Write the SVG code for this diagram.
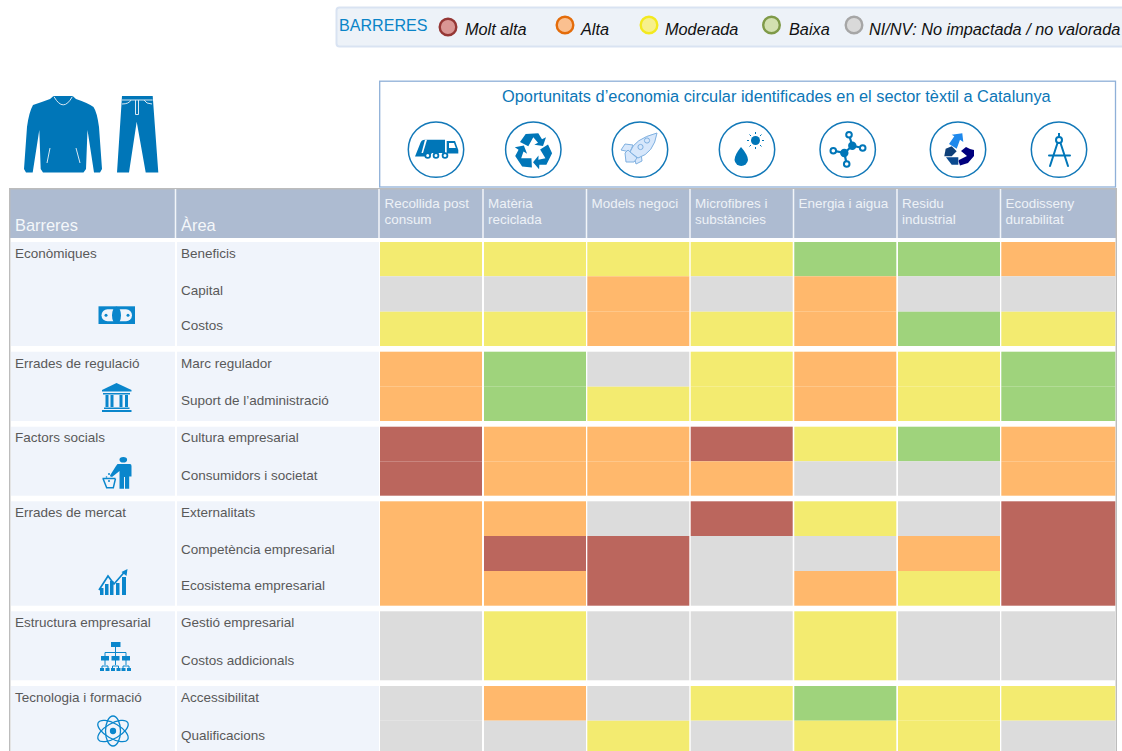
<svg xmlns="http://www.w3.org/2000/svg" width="1122" height="751" viewBox="0 0 1122 751">
<style>
text{font-family:"Liberation Sans",Arial,sans-serif}
.lab{font-size:13.5px;fill:#595959}
.hd{font-size:13.45px;fill:#eef2f7}
.hb{font-size:16.4px;fill:#f4f7fa}
.leg{font-size:16.3px;font-style:italic;fill:#111}
.i{fill:#0076b8}
.w{fill:none;stroke:#d8e8f3;stroke-width:1}
.ring{fill:#fff;stroke:#1278b8;stroke-width:1.5}
.r{fill:#bb665d}.o{fill:#ffb86c}.y{fill:#f3eb70}.g{fill:#9fd37c}.n{fill:#dcdcdc}
.bg{fill:#f0f4fb}
</style>
<rect width="1122" height="751" fill="#fff"/>
<g id="legend">
<rect x="336.5" y="7.5" width="790" height="39" rx="3" fill="#edf2f8" stroke="#d9e3f2" stroke-width="2"/>
<text x="339" y="31" font-size="16.1" fill="#0a84c8">BARRERES</text>
<circle cx="448" cy="27" r="8.3" fill="#d99694" stroke="#953735" stroke-width="2.4"/>
<text class="leg" x="465" y="34.500">Molt alta</text>
<circle cx="565" cy="25" r="8.3" fill="#fac090" stroke="#e46c0a" stroke-width="2.4"/>
<text class="leg" x="581" y="34.500">Alta</text>
<circle cx="649" cy="25" r="8.3" fill="#f7f08c" stroke="#f3e91f" stroke-width="2.4"/>
<text class="leg" x="665" y="34.500">Moderada</text>
<circle cx="771.500" cy="25" r="8.3" fill="#d3e0b0" stroke="#7f9a48" stroke-width="2.4"/>
<text class="leg" x="789" y="34.500">Baixa</text>
<circle cx="854" cy="25" r="8.3" fill="#d9d9d9" stroke="#a6a6a6" stroke-width="2.4"/>
<text class="leg" x="869" y="34.500">NI/NV: No impactada / no valorada</text>
</g>
<g id="garments">
<path class="i" d="M53.500 96H72.700L76 99Q88 103 93.500 107Q97 112 99 127L102 169L100 172.500H94L87.500 130L86 169L83.500 172.500H43L40.700 169L39.300 130L32.700 172.500H26L24 169L27 127Q29 112 33 105Q42 102 50 99Z"/>
<path class="w" stroke-width="1.200" d="M54 96.700Q63.300 113 72.300 96.700M50 148L47 163M76 148L80 163"/>
<path class="i" d="M122 96H152.700L158.300 172.500H145.700L136.700 121.700L129 172.500H117Z"/>
<path class="w" d="M122 100H152.700M122 104Q129 104 131 100M152 104Q146 104 144 100M135.500 100V114.500H138.500V100"/>
</g>
<g id="title-panel">
<rect x="379.700" y="81.200" width="735.800" height="105.800" fill="#fff" stroke="#8fb0d8" stroke-width="1.300"/>
<text x="502" y="102" font-size="16.35" fill="#0b76b7">Oportunitats d’economia circular identificades en el sector tèxtil a Catalunya</text>
</g>
<g id="op-recollida">
<circle class="ring" cx="436" cy="149.600" r="27.700"/>
<path class="i" d="M415 156.500L420 144Q421 139.700 425 139.700H445V153H432L429 156.500Z"/>
<path fill="#fff" d="M425 139.700L421.500 153H423L427 139.700Z"/>
<path class="i" d="M446.700 141H455L458.300 150V153.500H446.700Z"/>
<path fill="#fff" d="M449 143H454L455.800 148H449Z"/>
<g fill="#fff" stroke="#0076b8" stroke-width="1.800"><circle cx="427.700" cy="155.500" r="2.400"/><circle cx="436" cy="155.500" r="2.400"/><circle cx="445" cy="155.500" r="2.400"/></g>
</g>
<g id="op-materia">
<circle class="ring" cx="533.300" cy="149.600" r="27.700"/>
<g class="i">
<path d="M520 142L525.700 134L538.300 133.300L542 139.300L546 137.300L543 146L534.300 144.700L538 142.700L533.300 137.300L528.300 146.300Z"/>
<path transform="rotate(120 533.300 151.300)" d="M520 142L525.700 134L538.300 133.300L542 139.300L546 137.300L543 146L534.300 144.700L538 142.700L533.300 137.300L528.300 146.300Z"/>
<path transform="rotate(240 533.300 151.300)" d="M520 142L525.700 134L538.300 133.300L542 139.300L546 137.300L543 146L534.300 144.700L538 142.700L533.300 137.300L528.300 146.300Z"/>
</g>
</g>
<g id="op-models">
<circle class="ring" cx="640" cy="149.600" r="27.700"/>
<g fill="#d7e7fb" stroke="#7fb0e0" stroke-width="1">
<path d="M633 145L625 144L621 150L630 152Z"/>
<path d="M641 153L642 161L636 164L634 156Z"/>
<path d="M626 162L625 153L628 150L637 158L634 162Z"/>
<path d="M630 152Q634 139 657 133Q654 153 638 158Z"/>
<circle cx="647" cy="140.500" r="2.600"/><circle cx="640.500" cy="147" r="2.600"/>
</g>
</g>
<g id="op-microfibres">
<circle class="ring" cx="747" cy="149.600" r="27.700"/>
<path class="i" d="M741 147Q748 155 748 160A6.800 6.800 0 0 1 734.500 160Q734.500 155 741 147Z"/>
<circle class="i" cx="755.500" cy="140.500" r="4.500"/>
<path fill="none" stroke="#0076b8" stroke-width="1" d="M755.500 132V134M755.500 147V149M747 140.500H749M762 140.500H764M749.500 134.500L751 136M760 145L761.500 146.500M761.500 134.500L760 136M751 145L749.500 146.500"/>
</g>
<g id="op-energia">
<circle class="ring" cx="847.700" cy="149.600" r="27.700"/>
<path fill="none" stroke="#0076b8" stroke-width="2.200" d="M852.300 145.700L844.300 153M852.300 145.700L849 134.700M852.300 145.700L862.700 148M844.300 153L833.300 150.700M844.300 153L846.700 164"/>
<circle class="i" cx="852.300" cy="145.700" r="4.200"/><circle class="i" cx="844.300" cy="153" r="4.200"/>
<g fill="#fff" stroke="#0076b8" stroke-width="2"><circle cx="849" cy="134.700" r="2.800"/><circle cx="862.700" cy="148" r="2.800"/><circle cx="833.300" cy="150.700" r="2.800"/><circle cx="846.700" cy="164" r="2.800"/></g>
</g>
<g id="op-residu">
<circle class="ring" cx="958" cy="149.600" r="27.700"/>
<path fill="#1e88ec" d="M949 144L954.300 136.300L951.700 134.700L962.300 133.300L963.300 142L960 139.700L956.700 148.700Z"/>
<path fill="#0e3f78" d="M944.300 156.300L945.700 148.700L951.700 146.300L956.700 151.300L951.700 156.300Z"/>
<path fill="#0b4a8f" d="M946 157.300H958.300V164.700H951.700Z"/>
<path fill="#00007e" d="M959 160L967 156L961 151L966 147L970 149L974 150V156L968 163L960 165.500L958.500 161Z"/>
</g>
<g id="op-ecodisseny">
<circle class="ring" cx="1059" cy="149.600" r="27.700"/>
<g fill="none" stroke="#0076b8" stroke-width="2">
<circle cx="1059" cy="140" r="3"/>
<path d="M1057.500 143L1050 166M1060.500 143L1068 166M1049 155.500H1070" stroke-linecap="round"/>
<path d="M1059 137V133"/>
</g>
</g>
<g id="table-header">
<rect x="9" y="188" width="1107" height="50" fill="#adbbd1"/>
<path d="M9 188.700H1116" stroke="#bcbcbc" stroke-width="1.400"/>
<path d="M9.700 188V751" stroke="#bcbcbc" stroke-width="1.400"/>
<path d="M1116.300 188V751" stroke="#bcbcbc" stroke-width="1.400"/>
<path d="M175.500 189V238M379 189V238M483 189V238M586.500 189V238M690 189V238M793.500 189V238M897 189V238M1000.500 189V238" stroke="#f2f5f9" stroke-width="1.500"/>
<text class="hb" x="15" y="231">Barreres</text>
<text class="hb" x="181" y="231">Àrea</text>
<g>
<text class="hd" x="384.500" y="208">Recollida post</text><text class="hd" x="384.500" y="224">consum</text>
<text class="hd" x="488" y="208">Matèria</text><text class="hd" x="488" y="224">reciclada</text>
<text class="hd" x="591.500" y="208">Models negoci</text>
<text class="hd" x="695" y="208">Microfibres i</text><text class="hd" x="695" y="224">substàncies</text>
<text class="hd" x="798.500" y="208">Energia i aigua</text>
<text class="hd" x="902" y="208">Residu</text><text class="hd" x="902" y="224">industrial</text>
<text class="hd" x="1005.500" y="208">Ecodisseny</text><text class="hd" x="1005.500" y="224">durabilitat</text>
</g>
</g>
<g id="row-backgrounds" class="bg">
<rect x="11" y="242" width="164" height="104"/><rect x="177" y="242" width="202" height="104"/>
<rect x="11" y="351.700" width="164" height="69.300"/><rect x="177" y="351.700" width="202" height="69.300"/>
<rect x="11" y="426.700" width="164" height="69"/><rect x="177" y="426.700" width="202" height="69"/>
<rect x="11" y="501.300" width="164" height="104.400"/><rect x="177" y="501.300" width="202" height="104.400"/>
<rect x="11" y="611.300" width="164" height="69"/><rect x="177" y="611.300" width="202" height="69"/>
<rect x="11" y="686" width="164" height="65"/><rect x="177" y="686" width="202" height="65"/>
</g>
<g id="matrix">
<g id="row-beneficis"><rect class="y" x="380" y="242" width="102" height="34.300"/><rect class="y" x="484" y="242" width="102" height="34.300"/><rect class="y" x="587.300" y="242" width="102" height="34.300"/><rect class="y" x="690.700" y="242" width="102" height="34.300"/><rect class="g" x="794.300" y="242" width="102" height="34.300"/><rect class="g" x="898" y="242" width="102" height="34.300"/><rect class="o" x="1001.300" y="242" width="114" height="34.300"/></g>
<g id="row-capital"><rect class="n" x="380" y="276.300" width="102" height="35.400"/><rect class="n" x="484" y="276.300" width="102" height="35.400"/><rect class="o" x="587.300" y="276.300" width="102" height="35.400"/><rect class="n" x="690.700" y="276.300" width="102" height="35.400"/><rect class="o" x="794.300" y="276.300" width="102" height="35.400"/><rect class="n" x="898" y="276.300" width="102" height="35.400"/><rect class="n" x="1001.300" y="276.300" width="114" height="35.400"/></g>
<g id="row-costos"><rect class="y" x="380" y="311.700" width="102" height="34.300"/><rect class="y" x="484" y="311.700" width="102" height="34.300"/><rect class="o" x="587.300" y="311.700" width="102" height="34.300"/><rect class="y" x="690.700" y="311.700" width="102" height="34.300"/><rect class="o" x="794.300" y="311.700" width="102" height="34.300"/><rect class="g" x="898" y="311.700" width="102" height="34.300"/><rect class="y" x="1001.300" y="311.700" width="114" height="34.300"/></g>
<g id="row-marc"><rect class="o" x="380" y="351.700" width="102" height="35"/><rect class="g" x="484" y="351.700" width="102" height="35"/><rect class="n" x="587.300" y="351.700" width="102" height="35"/><rect class="y" x="690.700" y="351.700" width="102" height="35"/><rect class="o" x="794.300" y="351.700" width="102" height="35"/><rect class="y" x="898" y="351.700" width="102" height="35"/><rect class="g" x="1001.300" y="351.700" width="114" height="35"/></g>
<g id="row-suport"><rect class="o" x="380" y="386.700" width="102" height="34.300"/><rect class="g" x="484" y="386.700" width="102" height="34.300"/><rect class="y" x="587.300" y="386.700" width="102" height="34.300"/><rect class="y" x="690.700" y="386.700" width="102" height="34.300"/><rect class="o" x="794.300" y="386.700" width="102" height="34.300"/><rect class="y" x="898" y="386.700" width="102" height="34.300"/><rect class="g" x="1001.300" y="386.700" width="114" height="34.300"/></g>
<g id="row-cultura"><rect class="r" x="380" y="426.700" width="102" height="34.600"/><rect class="o" x="484" y="426.700" width="102" height="34.600"/><rect class="o" x="587.300" y="426.700" width="102" height="34.600"/><rect class="r" x="690.700" y="426.700" width="102" height="34.600"/><rect class="y" x="794.300" y="426.700" width="102" height="34.600"/><rect class="g" x="898" y="426.700" width="102" height="34.600"/><rect class="o" x="1001.300" y="426.700" width="114" height="34.600"/></g>
<g id="row-consumidors"><rect class="r" x="380" y="461.300" width="102" height="34.400"/><rect class="o" x="484" y="461.300" width="102" height="34.400"/><rect class="o" x="587.300" y="461.300" width="102" height="34.400"/><rect class="o" x="690.700" y="461.300" width="102" height="34.400"/><rect class="n" x="794.300" y="461.300" width="102" height="34.400"/><rect class="n" x="898" y="461.300" width="102" height="34.400"/><rect class="o" x="1001.300" y="461.300" width="114" height="34.400"/></g>
<g id="row-externalitats"><rect class="o" x="380" y="501.300" width="102" height="34.700"/><rect class="o" x="484" y="501.300" width="102" height="34.700"/><rect class="n" x="587.300" y="501.300" width="102" height="34.700"/><rect class="r" x="690.700" y="501.300" width="102" height="34.700"/><rect class="y" x="794.300" y="501.300" width="102" height="34.700"/><rect class="n" x="898" y="501.300" width="102" height="34.700"/><rect class="r" x="1001.300" y="501.300" width="114" height="34.700"/></g>
<g id="row-competencia"><rect class="o" x="380" y="536" width="102" height="35"/><rect class="r" x="484" y="536" width="102" height="35"/><rect class="r" x="587.300" y="536" width="102" height="35"/><rect class="n" x="690.700" y="536" width="102" height="35"/><rect class="n" x="794.300" y="536" width="102" height="35"/><rect class="o" x="898" y="536" width="102" height="35"/><rect class="r" x="1001.300" y="536" width="114" height="35"/></g>
<g id="row-ecosistema"><rect class="o" x="380" y="571" width="102" height="34.700"/><rect class="o" x="484" y="571" width="102" height="34.700"/><rect class="r" x="587.300" y="571" width="102" height="34.700"/><rect class="n" x="690.700" y="571" width="102" height="34.700"/><rect class="o" x="794.300" y="571" width="102" height="34.700"/><rect class="y" x="898" y="571" width="102" height="34.700"/><rect class="r" x="1001.300" y="571" width="114" height="34.700"/></g>
<g id="row-gestio"><rect class="n" x="380" y="611.300" width="102" height="34.700"/><rect class="y" x="484" y="611.300" width="102" height="34.700"/><rect class="n" x="587.300" y="611.300" width="102" height="34.700"/><rect class="n" x="690.700" y="611.300" width="102" height="34.700"/><rect class="y" x="794.300" y="611.300" width="102" height="34.700"/><rect class="n" x="898" y="611.300" width="102" height="34.700"/><rect class="n" x="1001.300" y="611.300" width="114" height="34.700"/></g>
<g id="row-addicionals"><rect class="n" x="380" y="646" width="102" height="34.300"/><rect class="y" x="484" y="646" width="102" height="34.300"/><rect class="n" x="587.300" y="646" width="102" height="34.300"/><rect class="n" x="690.700" y="646" width="102" height="34.300"/><rect class="y" x="794.300" y="646" width="102" height="34.300"/><rect class="n" x="898" y="646" width="102" height="34.300"/><rect class="n" x="1001.300" y="646" width="114" height="34.300"/></g>
<g id="row-accessibilitat"><rect class="n" x="380" y="686" width="102" height="34.700"/><rect class="o" x="484" y="686" width="102" height="34.700"/><rect class="n" x="587.300" y="686" width="102" height="34.700"/><rect class="y" x="690.700" y="686" width="102" height="34.700"/><rect class="g" x="794.300" y="686" width="102" height="34.700"/><rect class="y" x="898" y="686" width="102" height="34.700"/><rect class="y" x="1001.300" y="686" width="114" height="34.700"/></g>
<g id="row-qualificacions"><rect class="n" x="380" y="720.700" width="102" height="30.300"/><rect class="n" x="484" y="720.700" width="102" height="30.300"/><rect class="y" x="587.300" y="720.700" width="102" height="30.300"/><rect class="n" x="690.700" y="720.700" width="102" height="30.300"/><rect class="y" x="794.300" y="720.700" width="102" height="30.300"/><rect class="y" x="898" y="720.700" width="102" height="30.300"/><rect class="n" x="1001.300" y="720.700" width="114" height="30.300"/></g>
</g>
<g id="labels">
<text class="lab" x="15" y="258">Econòmiques</text>
<text class="lab" x="15" y="368">Errades de regulació</text>
<text class="lab" x="15" y="442">Factors socials</text>
<text class="lab" x="15" y="517">Errades de mercat</text>
<text class="lab" x="15" y="627">Estructura empresarial</text>
<text class="lab" x="15" y="702">Tecnologia i formació</text>
<text class="lab" x="181" y="258">Beneficis</text>
<text class="lab" x="181" y="295">Capital</text>
<text class="lab" x="181" y="330">Costos</text>
<text class="lab" x="181" y="368">Marc regulador</text>
<text class="lab" x="181" y="405">Suport de l’administració</text>
<text class="lab" x="181" y="442">Cultura empresarial</text>
<text class="lab" x="181" y="479.500">Consumidors i societat</text>
<text class="lab" x="181" y="517">Externalitats</text>
<text class="lab" x="181" y="554">Competència empresarial</text>
<text class="lab" x="181" y="589.500">Ecosistema empresarial</text>
<text class="lab" x="181" y="627">Gestió empresarial</text>
<text class="lab" x="181" y="664.500">Costos addicionals</text>
<text class="lab" x="181" y="702">Accessibilitat</text>
<text class="lab" x="181" y="739.500">Qualificacions</text>
</g>
<g id="icon-money">
<rect x="98.500" y="306.300" width="36.500" height="17.700" fill="#0a86cc"/>
<rect x="101.500" y="309.300" width="30.500" height="12" rx="6" fill="#f0f4fb"/>
<ellipse cx="116.500" cy="315.300" rx="4.500" ry="8.700" fill="#0a86cc"/>
<circle cx="106" cy="315.300" r="1.500" fill="#0a86cc"/><circle cx="128" cy="315.300" r="1.500" fill="#0a86cc"/>
</g>
<g id="icon-bank" fill="#0a86cc">
<path d="M102 390L116.500 383L131.500 390V391.500H102Z"/>
<rect x="103" y="393" width="27" height="1.500"/>
<rect x="105.500" y="395" width="3" height="12"/><rect x="110.500" y="395" width="3" height="12"/><rect x="119.500" y="395" width="3" height="12"/><rect x="125" y="395" width="3" height="12"/>
<rect x="104" y="407.500" width="25.500" height="1.500"/><rect x="102" y="410" width="29.500" height="2"/>
</g>
<g id="icon-person" fill="#0a86cc">
<ellipse cx="123.300" cy="459.800" rx="3.800" ry="2.800"/>
<path d="M117.500 464H130Q131.500 464 131.500 466V476.500H129.200V488.700H125V477H124V488.700H119.500V471L112 477L110 475.500L116 466Z"/>
<path fill="none" stroke="#0a86cc" stroke-width="1.500" d="M102.500 478.500H115.500M103 478.500L106.700 487.800H113.300L115.500 478.500"/>
<circle cx="109" cy="474" r="1"/><circle cx="106.500" cy="477" r="0.800"/><circle cx="109" cy="481" r="1"/><circle cx="111" cy="476" r="0.800"/>
</g>
<g id="icon-chart" fill="#0a86cc">
<rect x="100" y="588" width="3.500" height="7"/><rect x="105" y="584" width="3.500" height="11"/><rect x="110" y="581" width="3.500" height="14"/><rect x="116" y="583" width="3.500" height="12"/><rect x="122" y="577" width="4" height="18"/>
<path fill="none" stroke="#0a86cc" stroke-width="1.700" d="M99 590L108 576L114 584L124.500 572"/>
<path d="M127.500 569L126.500 576L121.500 572Z"/>
</g>
<g id="icon-org" fill="#0a86cc">
<rect x="111" y="642" width="9.500" height="5"/>
<path fill="none" stroke="#0a86cc" stroke-width="1" d="M115.500 647V656M105 656V652.500H126V656M105 660V665M115.500 660V665M126 660V665M102 669V666H108V669M112.500 669V666H118.500V669M123 669V666H129V669"/>
<rect x="101" y="656" width="8" height="4.500"/><rect x="111.500" y="656" width="8" height="4.500"/><rect x="122" y="656" width="8" height="4.500"/>
<rect x="100" y="668" width="4" height="3"/><rect x="105.500" y="668" width="4" height="3"/><rect x="111" y="668" width="4" height="3"/><rect x="116.500" y="668" width="4" height="3"/><rect x="121.500" y="668" width="4" height="3"/><rect x="127" y="668" width="4" height="3"/>
</g>
<g id="icon-atom" fill="none" stroke="#0a86cc" stroke-width="1.300">
<ellipse cx="113" cy="731" rx="17" ry="7.500" transform="rotate(30 113 731)"/>
<ellipse cx="113" cy="731" rx="17" ry="7.500" transform="rotate(-30 113 731)"/>
<ellipse cx="113" cy="731" rx="7.500" ry="15"/>
<circle cx="113" cy="731" r="2.500" fill="#0a86cc"/>
</g>
</svg>
